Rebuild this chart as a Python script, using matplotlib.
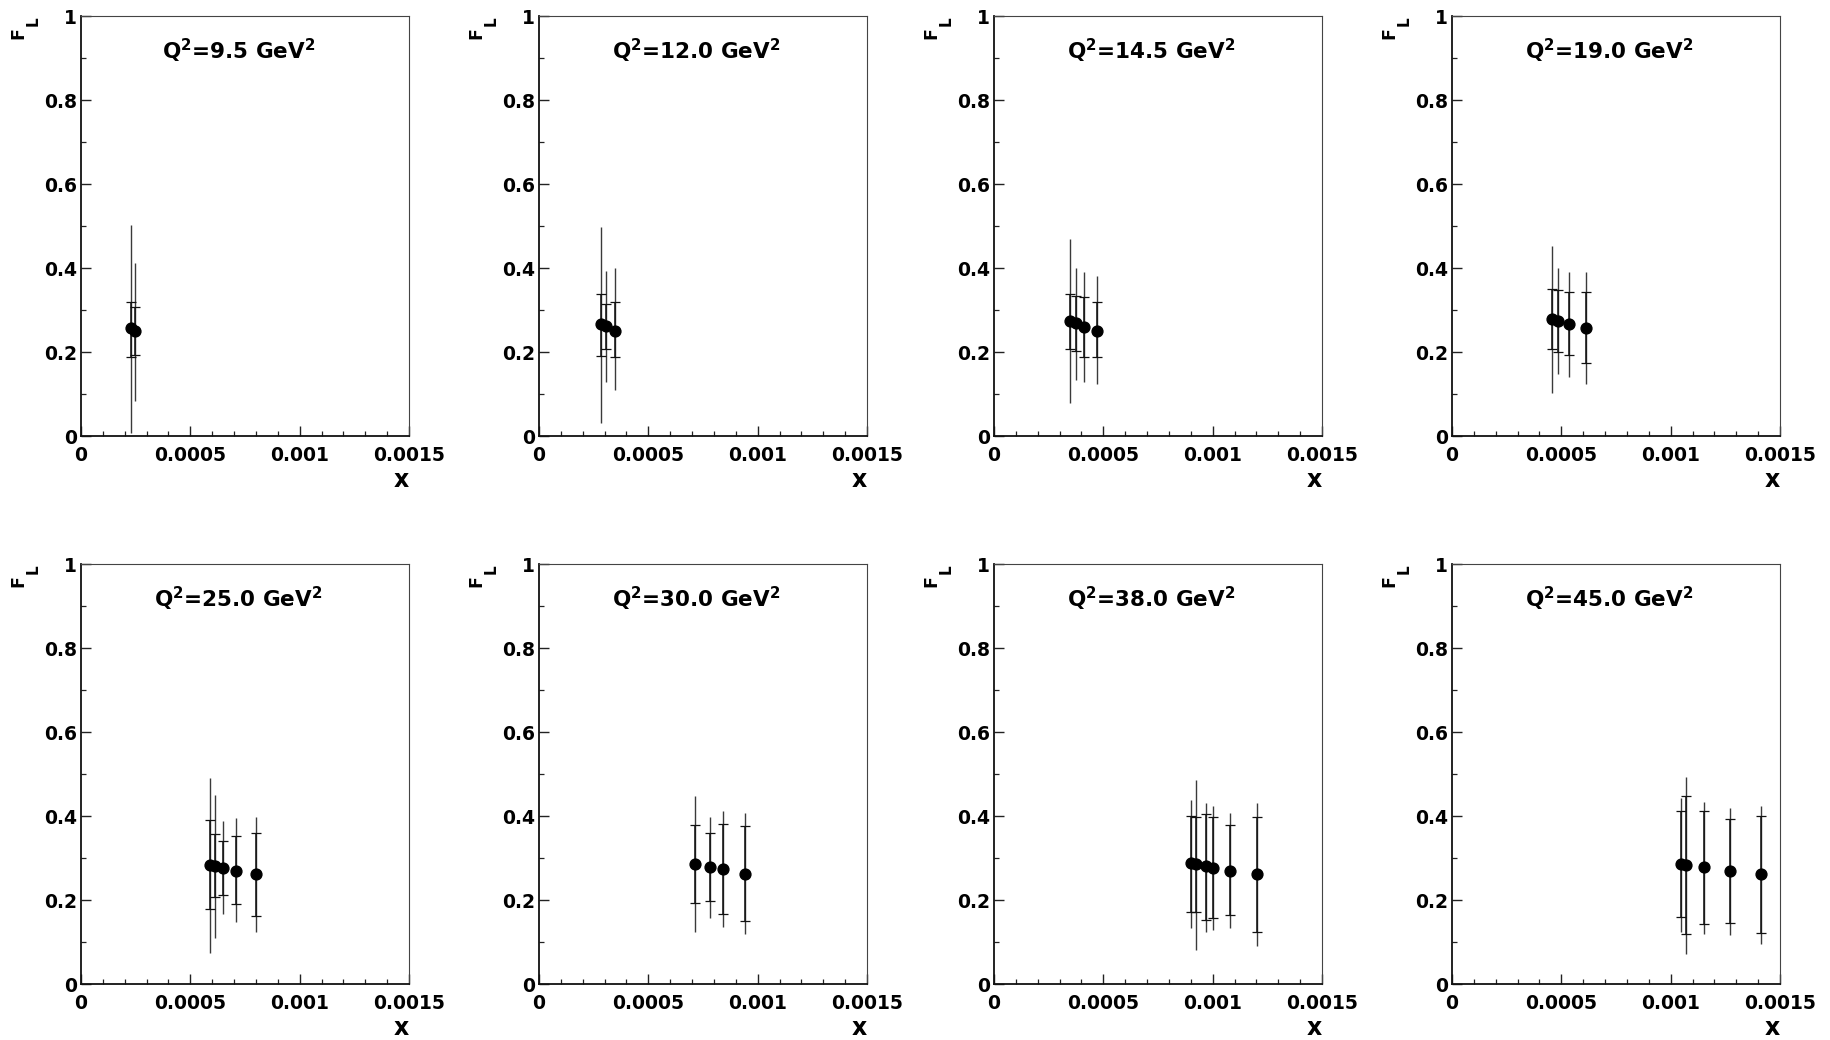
import matplotlib
matplotlib.use("Agg")
import matplotlib.pyplot as plt
from matplotlib.ticker import MultipleLocator, FixedLocator
import numpy as np

plt.rcParams['font.family'] = ['DejaVu Sans']
plt.rcParams['font.weight'] = 'bold'
plt.rcParams['mathtext.default'] = 'bf'
plt.rcParams['mathtext.fontset'] = 'dejavusans'

# ---- data ----
q2_labels = ["9.5", "12.0", "14.5", "19.0", "25.0", "30.0", "38.0", "45.0"]

x_vals = [
    [0.000229, 0.000247],
    [0.000283, 0.000306, 0.000348],
    [0.000346, 0.000375, 0.000410, 0.000470],
    [0.000459, 0.000487, 0.000533, 0.000612],
    [0.000592, 0.000614, 0.000649, 0.000708, 0.000800],
    [0.000713, 0.000782, 0.000842, 0.000944],
    [0.000899, 0.000924, 0.000968, 0.001003, 0.001079, 0.001201],
    [0.001048, 0.001071, 0.001151, 0.001273, 0.001413],
]

fl_vals = [
    [0.256, 0.250],
    [0.266, 0.262, 0.251],
    [0.274, 0.270, 0.260, 0.251],
    [0.278, 0.274, 0.267, 0.257],
    [0.284, 0.280, 0.276, 0.270, 0.261],
    [0.285, 0.278, 0.273, 0.263],
    [0.287, 0.285, 0.280, 0.277, 0.270, 0.261],
    [0.285, 0.284, 0.278, 0.269, 0.261],
]

stat_hi = [
    [0.320, 0.306],
    [0.339, 0.315, 0.318],
    [0.337, 0.333, 0.331, 0.318],
    [0.350, 0.347, 0.343, 0.342],
    [0.391, 0.356, 0.341, 0.353, 0.359],
    [0.378, 0.359, 0.381, 0.377],
    [0.400, 0.398, 0.404, 0.397, 0.378, 0.398],
    [0.411, 0.447, 0.411, 0.394, 0.400],
]

stat_lo = [
    [0.189, 0.193],
    [0.190, 0.207, 0.189],
    [0.208, 0.203, 0.189, 0.189],
    [0.206, 0.200, 0.192, 0.174],
    [0.178, 0.207, 0.212, 0.191, 0.163],
    [0.194, 0.197, 0.167, 0.151],
    [0.172, 0.172, 0.153, 0.157, 0.165, 0.125],
    [0.159, 0.119, 0.143, 0.145, 0.121],
]

tot_hi = [
    [0.502, 0.413],
    [0.497, 0.393, 0.400],
    [0.468, 0.400, 0.391, 0.381],
    [0.452, 0.400, 0.391, 0.391],
    [0.491, 0.450, 0.387, 0.395, 0.398],
    [0.448, 0.397, 0.411, 0.408],
    [0.439, 0.485, 0.431, 0.424, 0.408, 0.431],
    [0.444, 0.494, 0.434, 0.419, 0.425],
]

tot_lo = [
    [0.006, 0.083],
    [0.032, 0.128, 0.109],
    [0.078, 0.133, 0.129, 0.124],
    [0.103, 0.147, 0.141, 0.124],
    [0.075, 0.109, 0.166, 0.147, 0.123],
    [0.123, 0.157, 0.135, 0.119],
    [0.133, 0.080, 0.125, 0.129, 0.133, 0.091],
    [0.125, 0.072, 0.120, 0.117, 0.095],
]

x_ticks = [0, 0.0005, 0.001, 0.0015]
x_tick_labels = ["0", "0.0005", "0.001", "0.0015"]
y_ticks = [0, 0.2, 0.4, 0.6, 0.8, 1.0]
y_tick_labels = ["0", "0.2", "0.4", "0.6", "0.8", "1"]

# ---- layout ----
W, H = 1831, 1040
fig = plt.figure(figsize=(W / 100, H / 100), dpi=100)

col_left = [81, 539, 994, 1452]
row_top = [16, 564]
ax_w, ax_h = 328, 420

for i in range(8):
    r, c = divmod(i, 4)
    left = col_left[c] / W
    bottom = 1 - (row_top[r] + ax_h) / H
    ax = fig.add_axes([left, bottom, ax_w / W, ax_h / H])

    x = np.array(x_vals[i])
    y = np.array(fl_vals[i])
    s_hi = np.array(stat_hi[i]); s_lo = np.array(stat_lo[i])
    t_hi = np.array(tot_hi[i]); t_lo = np.array(tot_lo[i])

    ax.errorbar(x, y, yerr=[y - t_lo, t_hi - y], fmt='none', ecolor='#3a3a3a',
                elinewidth=1.0, capsize=0, zorder=2)
    ax.errorbar(x, y, yerr=[y - s_lo, s_hi - y], fmt='none', ecolor='#111111',
                elinewidth=1.1, capsize=3.4, capthick=0.9, zorder=3)
    ax.plot(x, y, 'o', color='black', markersize=7.8, zorder=4)

    ax.set_xlim(0, 0.0015)
    ax.set_ylim(0, 1)
    ax.xaxis.set_major_locator(FixedLocator(x_ticks))
    ax.set_xticklabels(x_tick_labels)
    ax.xaxis.set_minor_locator(MultipleLocator(0.0001))
    ax.yaxis.set_major_locator(FixedLocator(y_ticks))
    ax.set_yticklabels(y_tick_labels)
    ax.yaxis.set_minor_locator(MultipleLocator(0.1))

    ax.tick_params(axis='both', which='both', direction='in', top=False, right=False,
                   color='#222222')
    ax.tick_params(axis='x', which='major', length=7.5, width=1.0, pad=7, labelsize=13.5)
    ax.tick_params(axis='x', which='minor', length=3.7, width=0.9)
    ax.tick_params(axis='y', which='major', length=7.5, width=1.0, pad=3, labelsize=13.5)
    ax.tick_params(axis='y', which='minor', length=3.7, width=0.9)
    for lab in ax.get_xticklabels() + ax.get_yticklabels():
        lab.set_fontweight('bold')

    for side in ['left', 'bottom']:
        ax.spines[side].set_linewidth(1.3)
        ax.spines[side].set_color('#111111')
    for side in ['top', 'right']:
        ax.spines[side].set_linewidth(0.8)
        ax.spines[side].set_color('#444444')

    ax.text(0.48, 0.898, r'Q$^{2}$=' + q2_labels[i] + r' GeV$^{2}$',
            transform=ax.transAxes, ha='center', va='baseline',
            fontsize=15.5, fontweight='bold')
    # y-axis title F_L (ROOT style, rotated, at top-left)
    ax.text(-0.177, 0.974, 'F', transform=ax.transAxes, rotation=90,
            rotation_mode='anchor', ha='right', va='baseline',
            fontsize=12.5, fontweight='bold')
    ax.text(-0.131, 1.0, 'L', transform=ax.transAxes, rotation=90,
            rotation_mode='anchor', ha='right', va='baseline',
            fontsize=11, fontweight='bold')
    ax.text(1.0, -0.122, 'x', transform=ax.transAxes, ha='right', va='baseline',
            fontsize=17, fontweight='bold')

fig.savefig('out.png', dpi=100)
